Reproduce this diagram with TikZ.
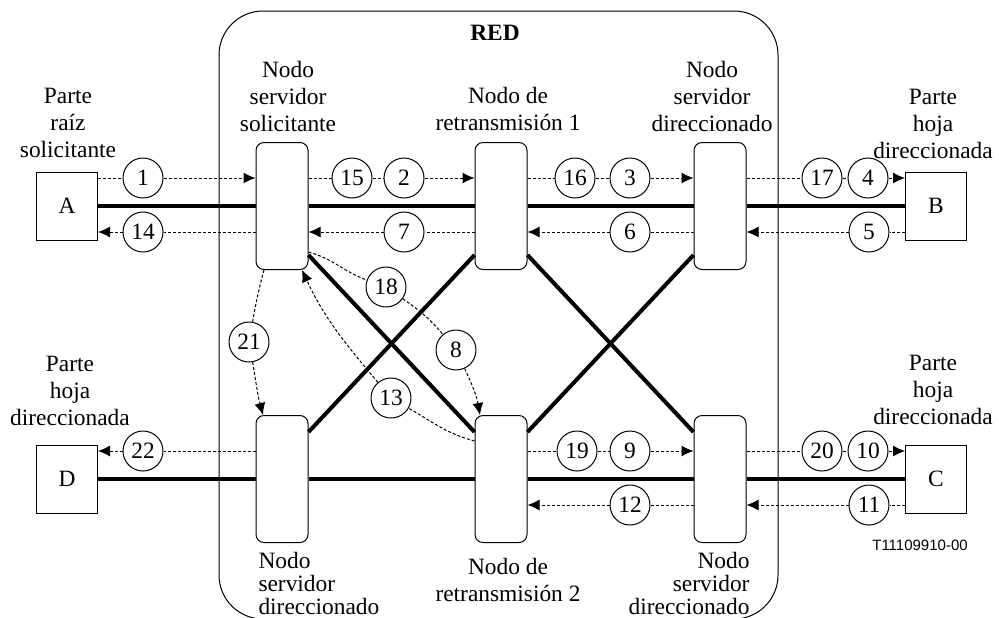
\documentclass[tikz,border=0pt]{standalone}
\usepackage{fontspec}
\setmainfont{Liberation Serif}
\newfontfamily\sanslabel{Liberation Sans}
\usepackage{tikz}
\usetikzlibrary{arrows.meta}

\begin{document}
\begin{tikzpicture}[
    x=0.5pt, y=-0.5pt,
    >=Latex,
    every node/.style={font=\fontsize{11.7}{13.5}\selectfont},
    parte/.style={draw, rectangle, minimum width=30.5pt, minimum height=34pt, inner sep=0pt, fill=white},
    nodo/.style={draw, rectangle, rounded corners=4pt, minimum width=26pt, minimum height=63.5pt, fill=white},
    num/.style={draw, circle, minimum size=20pt, inner sep=0pt, fill=white},
    etiq/.style={align=center, inner sep=0pt},
    enlace/.style={line width=2pt},
    msg/.style={dash pattern=on 1.5pt off 1pt, -{Latex[length=6pt,width=5.5pt]}},
    every path/.style={line width=0.5pt}
]
\useasboundingbox (0,0) rectangle (999,617);

% Red
\draw[rounded corners=22pt] (219,11) rectangle (778,619);
\node[font=\bfseries\fontsize{11.7}{13.5}\selectfont] (red) at (495,33) {RED};

% Nodes
\node[parte] (A) at (67,206) {A};
\node[parte] (B) at (936,206) {B};
\node[parte] (C) at (936,479) {C};
\node[parte] (D) at (67,479) {D};

\node[nodo] (sol) at (282,206) {};
\node[nodo] (ret1) at (501,206) {};
\node[nodo] (dirB) at (720,206) {};
\node[nodo] (dirD) at (282,479) {};
\node[nodo] (ret2) at (501,479) {};
\node[nodo] (dirC) at (720,479) {};

% Links
\draw[enlace] (A) -- (sol) -- (ret1) -- (dirB) -- (B);
\draw[enlace] (D) -- (dirD) -- (ret2) -- (dirC) -- (C);
\draw[enlace] ([yshift=7.5pt]sol.south east) -- ([yshift=-8.5pt]ret2.north west);
\draw[enlace] ([yshift=7.5pt]ret1.south west) -- ([yshift=-8.5pt]dirD.north east);
\draw[enlace] ([yshift=7.5pt]ret1.south east) -- ([yshift=-8.5pt]dirC.north west);
\draw[enlace] ([yshift=7.5pt]dirB.south west) -- ([yshift=-8.5pt]ret2.north east);

% Message numbers
\node[num] (n1) at (143,178) {1};
\node[num] (n14) at (143,232) {14};
\node[num] (n15) at (352,178) {15};
\node[num] (n2) at (404,178) {2};
\node[num] (n7) at (404,232) {7};
\node[num] (n16) at (575,178) {16};
\node[num] (n3) at (630,178) {3};
\node[num] (n6) at (630,232) {6};
\node[num] (n17) at (822,178) {17};
\node[num] (n4) at (868,178) {4};
\node[num] (n5) at (869,232) {5};
\node[num] (n22) at (143,451) {22};
\node[num] (n19) at (577,451) {19};
\node[num] (n9) at (630,451) {9};
\node[num] (n12) at (630,505) {12};
\node[num] (n20) at (822,451) {20};
\node[num] (n10) at (868,451) {10};
\node[num] (n11) at (869,505) {11};
\node[num] (n18) at (386,287) {18};
\node[num] (n8) at (456,350) {8};
\node[num] (n21) at (249,342) {21};
\node[num] (n13) at (391,398) {13};

% Messages
\draw[msg] (A.east |- n1) -- (n1) -- (sol.west |- n1);
\draw[msg] (sol.east |- n15) -- (n15) -- (n2) -- (ret1.west |- n2);
\draw[msg] (ret1.east |- n16) -- (n16) -- (n3) -- (dirB.west |- n3);
\draw[msg] (dirB.east |- n17) -- (n17) -- (n4) -- (B.west |- n4);
\draw[msg] (sol.west |- n14) -- (n14) -- (A.east |- n14);
\draw[msg] (ret1.west |- n7) -- (n7) -- (sol.east |- n7);
\draw[msg] (dirB.west |- n6) -- (n6) -- (ret1.east |- n6);
\draw[msg] (B.west |- n5) -- (n5) -- (dirB.east |- n5);
\draw[msg] (dirD.west |- n22) -- (n22) -- (D.east |- n22);
\draw[msg] (ret2.east |- n19) -- (n19) -- (n9) -- (dirC.west |- n9);
\draw[msg] (dirC.east |- n20) -- (n20) -- (n10) -- (C.west |- n10);
\draw[msg] (dirC.west |- n12) -- (n12) -- (ret2.east |- n12);
\draw[msg] (C.west |- n11) -- (n11) -- (dirC.east |- n11);
\draw[msg] ([yshift=9pt]sol.south east) to[out=-15,in=160] (n18)
    to[out=-35,in=130] (n8) to[out=-65,in=100] ([xshift=-10.5pt]ret2.north);
\draw[msg] ([xshift=-9pt]sol.south) to[out=-105,in=80] (n21)
    to[out=-80,in=105] ([xshift=-9.5pt]dirD.north);
\draw[msg] ([yshift=19pt]ret2.west) to[out=165,in=-30] (n13)
    to[out=130,in=-65] ([xshift=10pt]sol.south);

% Labels
\node[etiq] (lA) at (68,123) {Parte\\raíz\\solicitante};
\node[etiq] (lsol) at (288,96) {Nodo\\servidor\\solicitante};
\node[etiq] (lret1) at (508,109) {Nodo de\\retransmisión 1};
\node[etiq] (ldirB) at (712,96) {Nodo\\servidor\\direccionado};
\node[etiq] (lB) at (933,124) {Parte\\hoja\\direccionada};
\node[etiq] (lD) at (70,391) {Parte\\hoja\\direccionada};
\node[etiq] (lC) at (933,390) {Parte\\hoja\\direccionada};
\node[etiq, align=left, anchor=west, font=\fontsize{11.7}{11.5}\selectfont] (ldirD) at (258,583) {Nodo\\servidor\\direccionado};
\node[etiq] (lret2) at (508,580) {Nodo de\\retransmisión 2};
\node[etiq, align=right, anchor=east, font=\fontsize{11.7}{11.5}\selectfont] (ldirC) at (750,583) {Nodo\\servidor\\direccionado};
\node[font=\sanslabel\fontsize{7.5}{9}\selectfont] (ref) at (920,545) {T11109910-00};

\end{tikzpicture}
\end{document}
